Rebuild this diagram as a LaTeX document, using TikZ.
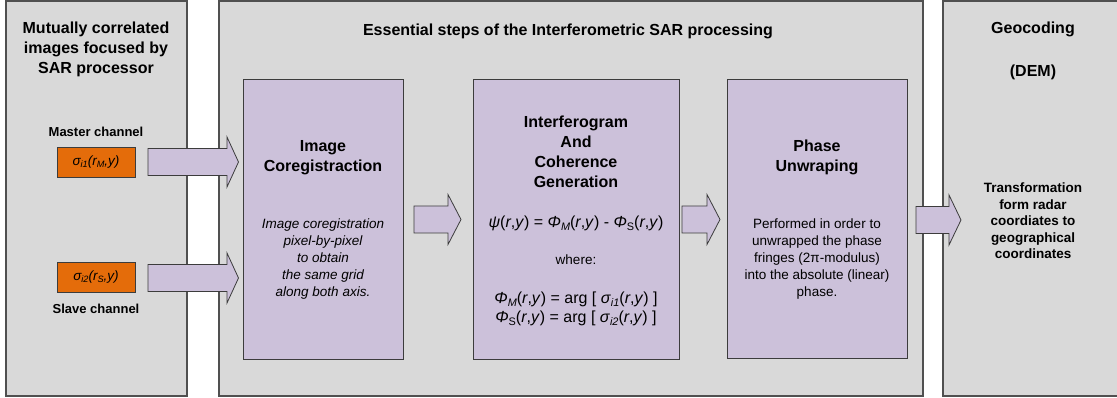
\documentclass[tikz,border=0pt]{standalone}
\usepackage{fontspec}
\setmainfont{Liberation Sans}
\definecolor{panelgray}{HTML}{D9D9D9}
\definecolor{edgegray}{HTML}{505050}
\definecolor{boxedge}{HTML}{3C3C3C}
\definecolor{lav}{HTML}{CCC1DA}
\definecolor{chanorange}{HTML}{E46C0A}
\newcommand\lowtxt[1]{\raisebox{-0.35ex}{\scalebox{0.68}{#1}}}
\newcommand\blockarrow[4]{%
  \draw[blockarrow] (#1,#4-13.5) -- (#2,#4-13.5) -- (#2,#4-25) -- (#3,#4)
    -- (#2,#4+25) -- (#2,#4+13.5) -- (#1,#4+13.5) -- cycle;}
\tikzset{
  panel/.style={draw=edgegray, line width=1.4pt, fill=panelgray},
  stepbox/.style={draw=boxedge, line width=0.9pt, fill=lav, inner sep=0pt},
  chanbox/.style={draw=boxedge, line width=0.8pt, fill=chanorange, inner sep=0pt,
    minimum width=78pt, minimum height=30pt,
    font=\fontsize{13.5}{16}\selectfont},
  blockarrow/.style={draw=boxedge, line width=0.8pt, fill=lav},
  head/.style={font=\fontsize{16}{20}\selectfont\bfseries, align=center, inner sep=0pt},
  label/.style={font=\fontsize{13}{16}\selectfont\bfseries, align=center, inner sep=0pt},
  body/.style={font=\fontsize{13.5}{17}\selectfont, align=center, inner sep=0pt},
  formula/.style={font=\fontsize{16}{19}\selectfont, align=center, inner sep=0pt},
}
\begin{document}
\begin{tikzpicture}[x=1pt, y=-1pt]
\useasboundingbox (0,0) rectangle (1117,398);
\fill[white] (0,0) rectangle (1117,398);

% three stage panels
\path[panel] (6,1) rectangle (187,396);
\path[panel] (219,1) rectangle (923,396);
\path[panel] (943,1) rectangle (1125,396);

% input stage
\node[head] (intitle) at (96,49) {Mutually correlated\\images focused by\\SAR processor};
\node[label] (mlabel) at (96,132) {Master channel};
\node[chanbox] (master) at (96,162) {\itshape σ\lowtxt{i1}(r\lowtxt{M},y)};
\node[chanbox] (slave) at (96,277) {\itshape σ\lowtxt{i2}(r\lowtxt{S},y)};
\node[label] (slabel) at (96,309) {Slave channel};

% processing stage
\node[head] (ptitle) at (568,31) {Essential steps of the Interferometric SAR processing};

\node[stepbox, minimum width=160pt, minimum height=280pt] (coreg) at (323,219) {};
\node[head] at (323,158) {Image\\Coregistraction};
\node[body, font=\fontsize{13.5}{17}\selectfont\itshape] at (323,259.5)
  {Image coregistration\\pixel-by-pixel\\to obtain\\the same grid\\along both axis.};

\node[stepbox, minimum width=206pt, minimum height=280pt] (interf) at (576,219) {};
\node[head] at (576,152) {Interferogram\\And\\Coherence\\Generation};
\node[formula] at (576,223)
  {\textit{ψ}(\textit{r},\textit{y}) = \textit{Φ}\lowtxt{\textit{M}}(\textit{r},\textit{y}) - \textit{Φ}\lowtxt{S}(\textit{r},\textit{y})};
\node[body] at (576,260) {where:};
\node[formula] at (576,308.5)
  {\textit{Φ}\lowtxt{\textit{M}}(\textit{r},\textit{y}) = arg [ \textit{σ}\lowtxt{\textit{i1}}(\textit{r},\textit{y}) ]\\
   \textit{Φ}\lowtxt{S}(\textit{r},\textit{y}) = arg [ \textit{σ}\lowtxt{\textit{i2}}(\textit{r},\textit{y}) ]};

\node[stepbox, minimum width=180pt, minimum height=279pt] (unwrap) at (817,218.5) {};
\node[head] at (817,157.5) {Phase\\Unwraping};
\node[body] at (817,259.5)
  {Performed in order to\\unwrapped the phase\\fringes (2π-modulus)\\into the absolute (linear)\\phase.};

% output stage
\node[head] (gtitle) at (1033,29) {Geocoding};
\node[head] (dem) at (1033,72) {(DEM)};
\node[label, font=\fontsize{13.5}{16.5}\selectfont\bfseries] (transf) at (1033,221)
  {Transformation\\form radar\\coordiates to\\geographical\\coordinates};

% block arrows between the stages
\blockarrow{148}{227}{238.5}{162}
\blockarrow{148}{227}{238.5}{278}
\blockarrow{414}{448}{461}{219.5}
\blockarrow{682}{707}{720}{219.5}
\blockarrow{916}{949}{961}{220}
\end{tikzpicture}
\end{document}
